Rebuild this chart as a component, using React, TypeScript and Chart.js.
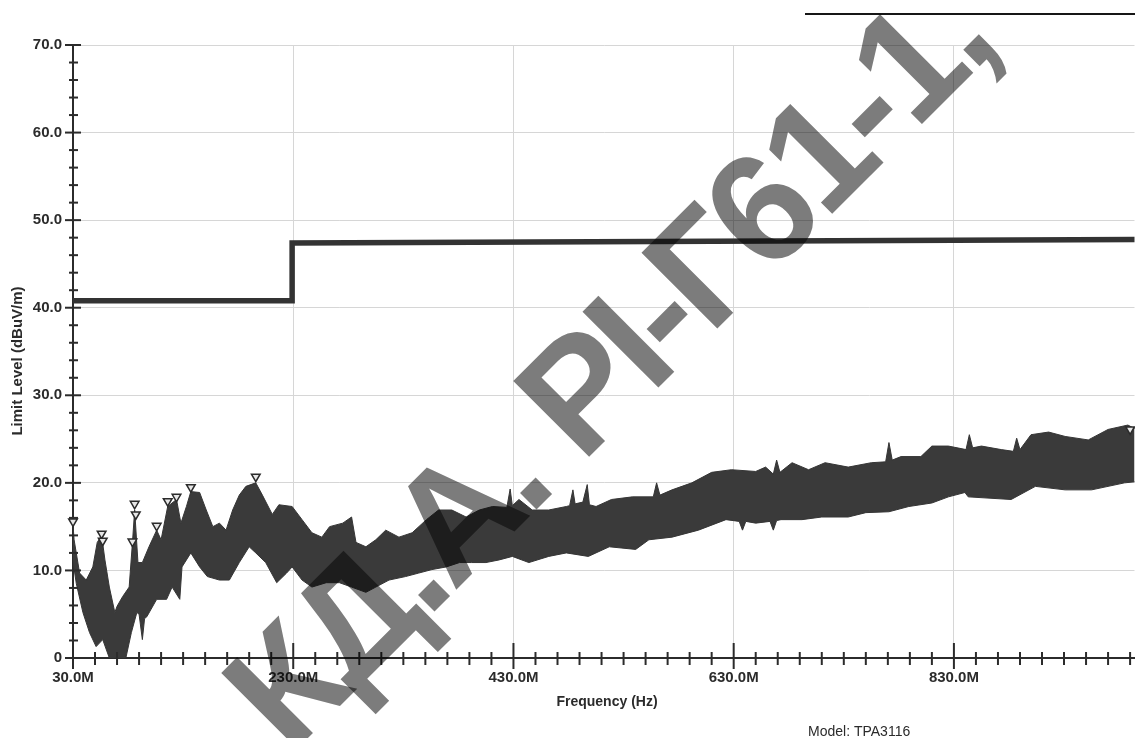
import { useEffect, useRef } from "react";
import { Chart, registerables } from "chart.js";

Chart.register(...registerables);

// ---- data ----
const xTickValues = [30, 230, 430, 630, 830];
const yTickStep = 10;
const xMinorStep = 20;
const yMinorStep = 2;

const upperFreq = [30, 31, 36, 42, 48, 52, 56, 59, 63, 68, 70, 75, 81, 84, 86, 89, 93, 99, 106, 110, 116, 124, 128, 133, 137, 145, 151, 157, 163, 169, 175, 181, 187, 196, 202, 211, 217, 229, 238, 247, 256, 263, 275, 283, 287, 296, 305, 314, 326, 338, 351, 362, 374, 387, 399, 411, 424, 427, 429, 435, 447, 462, 478, 481, 484, 486, 493, 497, 499, 505, 519, 538, 557, 560, 563, 574, 592, 610, 628, 650, 659, 666, 669, 672, 683, 698, 713, 734, 755, 768, 771, 774, 782, 800, 810, 825, 841, 844, 847, 855, 873, 884, 887, 890, 900, 916, 931, 952, 970, 988, 1000];
const upperLevel = [15.2, 13.5, 9.7, 8.9, 10.4, 13.2, 14.0, 11.2, 8.1, 5.2, 5.9, 7.0, 8.1, 13.2, 16.9, 10.9, 10.9, 12.7, 14.6, 13.5, 17.3, 18.1, 15.4, 17.3, 19.0, 18.9, 16.9, 15.0, 15.4, 14.6, 16.9, 18.6, 19.6, 20.0, 18.6, 16.4, 17.5, 17.3, 15.8, 14.3, 13.8, 15.0, 15.4, 16.1, 13.2, 12.7, 13.5, 14.6, 13.8, 14.3, 15.8, 16.9, 16.9, 16.1, 16.9, 17.3, 17.2, 19.3, 17.4, 18.1, 16.9, 16.9, 17.3, 17.4, 19.2, 17.6, 17.8, 19.8, 17.5, 17.3, 18.1, 18.4, 18.4, 20.0, 18.6, 19.2, 20.0, 21.2, 21.5, 21.3, 21.8, 21.0, 22.6, 21.2, 22.3, 21.5, 22.3, 21.8, 22.3, 22.4, 24.6, 22.6, 23.0, 23.0, 24.2, 24.2, 23.8, 25.5, 24.0, 24.2, 23.8, 23.6, 25.1, 23.8, 25.5, 25.8, 25.3, 24.9, 26.1, 26.6, 25.8];

const lowerFreq = [30, 33, 39, 45, 51, 57, 63, 78, 83, 88, 90, 93, 95, 97, 106, 115, 120, 127, 129, 137, 145, 152, 163, 172, 181, 190, 196, 205, 215, 224, 229, 238, 247, 260, 272, 283, 296, 305, 317, 332, 344, 356, 369, 381, 392, 405, 417, 429, 444, 462, 478, 498, 517, 541, 553, 574, 598, 623, 635, 638, 641, 650, 663, 666, 669, 673, 692, 710, 734, 750, 771, 789, 810, 825, 840, 843, 882, 904, 931, 955, 985, 1000];
const lowerLevel = [11.0, 8.5, 5.2, 2.9, 1.3, 2.1, 0, 0, 2.9, 5.2, 5.0, 2.1, 4.5, 4.7, 6.7, 6.7, 8.1, 6.7, 10.4, 12.0, 10.4, 9.3, 8.9, 8.9, 10.9, 12.7, 12.0, 10.9, 8.6, 9.7, 10.4, 8.9, 8.1, 8.6, 8.6, 8.1, 7.5, 8.1, 8.9, 9.3, 9.7, 10.1, 10.4, 10.9, 10.9, 10.9, 11.2, 11.6, 10.9, 11.6, 12.0, 11.6, 12.7, 12.4, 13.5, 13.8, 14.6, 15.8, 15.6, 14.6, 15.6, 15.4, 15.6, 14.6, 15.7, 15.8, 15.8, 16.1, 16.1, 16.6, 16.7, 17.3, 17.7, 18.4, 18.9, 18.4, 18.1, 19.6, 19.2, 19.2, 20.0, 20.2];

const limitFreq = [30, 229, 229, 1000];
const limitLevel = [40.8, 40.8, 47.4, 47.8];

const peakFreq = [30, 56, 57, 84, 86, 87, 106, 116, 124, 137, 196, 990];
const peakLevel = [15.6, 14.2, 13.4, 13.3, 17.6, 16.4, 15.1, 17.9, 18.4, 19.5, 20.7, 26.1];

const xTitle = "Frequency (Hz)";
const yTitle = "Limit Level (dBuV/m)";
const modelText = "Model: TPA3116";
const watermarkText = "КД.А. РІ-Г61-1,";

const toPoints = (xs: number[], ys: number[]) => xs.map((x, i) => ({ x, y: ys[i] }));

const INK = "#2b2b2b";
const FONT = '"Liberation Sans", Arial, sans-serif';

const decorPlugin = {
  id: "decor",
  afterDraw(chart: any) {
    const { ctx, chartArea, scales } = chart;
    const xs = scales.x;
    const ys = scales.y;
    ctx.save();
    ctx.strokeStyle = INK;
    ctx.lineWidth = 2;
    // y minor / major ticks crossing the axis
    const yCount = Math.round((ys.max - ys.min) / yMinorStep);
    for (let i = 0; i <= yCount; i++) {
      const v = ys.min + i * yMinorStep;
      const py = ys.getPixelForValue(v);
      const major = Math.round(v) % yTickStep === 0;
      ctx.beginPath();
      ctx.moveTo(chartArea.left - (major ? 8 : 4), py);
      ctx.lineTo(chartArea.left + (major ? 8 : 5), py);
      ctx.stroke();
    }
    // x minor / major ticks
    for (let i = 0; ; i++) {
      const f = xTickValues[0] + i * xMinorStep;
      const px = xs.getPixelForValue(f);
      if (px > chartArea.right + 1) break;
      const major = (f - xTickValues[0]) % 200 === 0;
      ctx.beginPath();
      ctx.moveTo(px, chartArea.bottom - (major ? 15 : 6));
      ctx.lineTo(px, chartArea.bottom + (major ? 11 : 7));
      ctx.stroke();
    }
    // header rule at the top right
    ctx.lineWidth = 2;
    ctx.strokeStyle = "#161616";
    ctx.beginPath();
    ctx.moveTo(805, 14);
    ctx.lineTo(chart.width, 14);
    ctx.stroke();

    // titles
    ctx.fillStyle = INK;
    ctx.font = `bold 14px ${FONT}`;
    ctx.textAlign = "center";
    ctx.textBaseline = "alphabetic";
    ctx.fillText(xTitle, 607, 706);

    ctx.save();
    ctx.translate(18, 361);
    ctx.rotate(-Math.PI / 2);
    ctx.font = `bold 15px ${FONT}`;
    ctx.textBaseline = "middle";
    ctx.fillText(yTitle, 0, 0);
    ctx.restore();

    ctx.font = `14px ${FONT}`;
    ctx.textAlign = "left";
    ctx.fillText(modelText, 808, 736);

    // watermark
    const size = 156;
    ctx.font = `bold ${size}px ${FONT}`;
    (ctx as any).letterSpacing = "-6px";
    ctx.textAlign = "left";
    ctx.textBaseline = "alphabetic";
    const pre = ctx.measureText(watermarkText.slice(0, watermarkText.length - 2)).width;
    (ctx as any).letterSpacing = "0px";
    const oneW = ctx.measureText("1").width;
    (ctx as any).letterSpacing = "-6px";
    const localX = pre + oneW * 0.62;
    const ang = -Math.PI / 4;
    const ax = 953, ay = 93;
    const ox = ax - localX * Math.cos(ang);
    const oy = ay - localX * Math.sin(ang);
    ctx.globalCompositeOperation = "multiply";
    ctx.fillStyle = "#7c7c7c";
    ctx.translate(ox, oy);
    ctx.rotate(ang);
    ctx.fillText(watermarkText, 0, 0);
    ctx.restore();
  },
};

export default function App() {
  const canvasRef = useRef<HTMLCanvasElement | null>(null);

  useEffect(() => {
    document.body.style.margin = "0";
    const canvas = canvasRef.current;
    if (!canvas) return;
    const chart = new Chart(canvas, {
      type: "line",
      data: {
        datasets: [
          {
            label: "peaks",
            data: toPoints(peakFreq, peakLevel),
            showLine: false,
            pointStyle: "triangle",
            rotation: 180,
            pointRadius: 5,
            pointBorderWidth: 1.5,
            pointBorderColor: INK,
            pointBackgroundColor: "#e6e6e6",
            clip: false as any,
            order: 0,
          },
          {
            label: "limit",
            data: toPoints(limitFreq, limitLevel),
            borderColor: "#333333",
            borderWidth: 5.5,
            pointRadius: 0,
            fill: false,
            tension: 0,
            order: 1,
          },
          {
            label: "upper",
            data: toPoints(upperFreq, upperLevel),
            borderColor: "#363636",
            borderWidth: 1,
            pointRadius: 0,
            fill: false,
            tension: 0,
            order: 2,
          },
          {
            label: "lower",
            data: toPoints(lowerFreq, lowerLevel),
            borderColor: "#363636",
            backgroundColor: "#3a3a3a",
            borderWidth: 1,
            pointRadius: 0,
            fill: "-1",
            tension: 0,
            order: 3,
          },
        ],
      },
      options: {
        animation: false,
        responsive: false,
        maintainAspectRatio: false,
        layout: { padding: { top: 45, left: 0, right: 0, bottom: 0 } },
        plugins: {
          legend: { display: false },
          tooltip: { enabled: false },
        },
        scales: {
          x: {
            type: "linear",
            min: 30,
            max: 994,
            afterBuildTicks: (s: any) => {
              s.ticks = xTickValues.map((v) => ({ value: v }));
            },
            afterFit: (s: any) => {
              s.height = 80;
            },
            grid: { color: "#d6d6d6", lineWidth: 1, drawTicks: false },
            border: { color: INK, width: 2 },
            ticks: {
              padding: 11,
              color: INK,
              font: { family: FONT, size: 15, weight: "bold" },
              maxRotation: 0,
              autoSkip: false,
              callback: (v: any) => Number(v).toFixed(1) + "M",
            },
          },
          y: {
            type: "linear",
            min: 0,
            max: 70,
            afterFit: (s: any) => {
              s.width = 73;
            },
            grid: { color: "#d6d6d6", lineWidth: 1, drawTicks: false },
            border: { color: INK, width: 2 },
            ticks: {
              stepSize: yTickStep,
              padding: 11,
              color: INK,
              font: { family: FONT, size: 15, weight: "bold" },
              callback: (v: any) => (Number(v) === 0 ? "0" : Number(v).toFixed(1)),
            },
          },
        },
      },
      plugins: [decorPlugin],
    });
    return () => chart.destroy();
  }, []);

  return (
    <div style={{ width: 1135, height: 738, overflow: "hidden", background: "#fff" }}>
      <canvas ref={canvasRef} width={1141} height={738} style={{ display: "block" }} />
    </div>
  );
}
